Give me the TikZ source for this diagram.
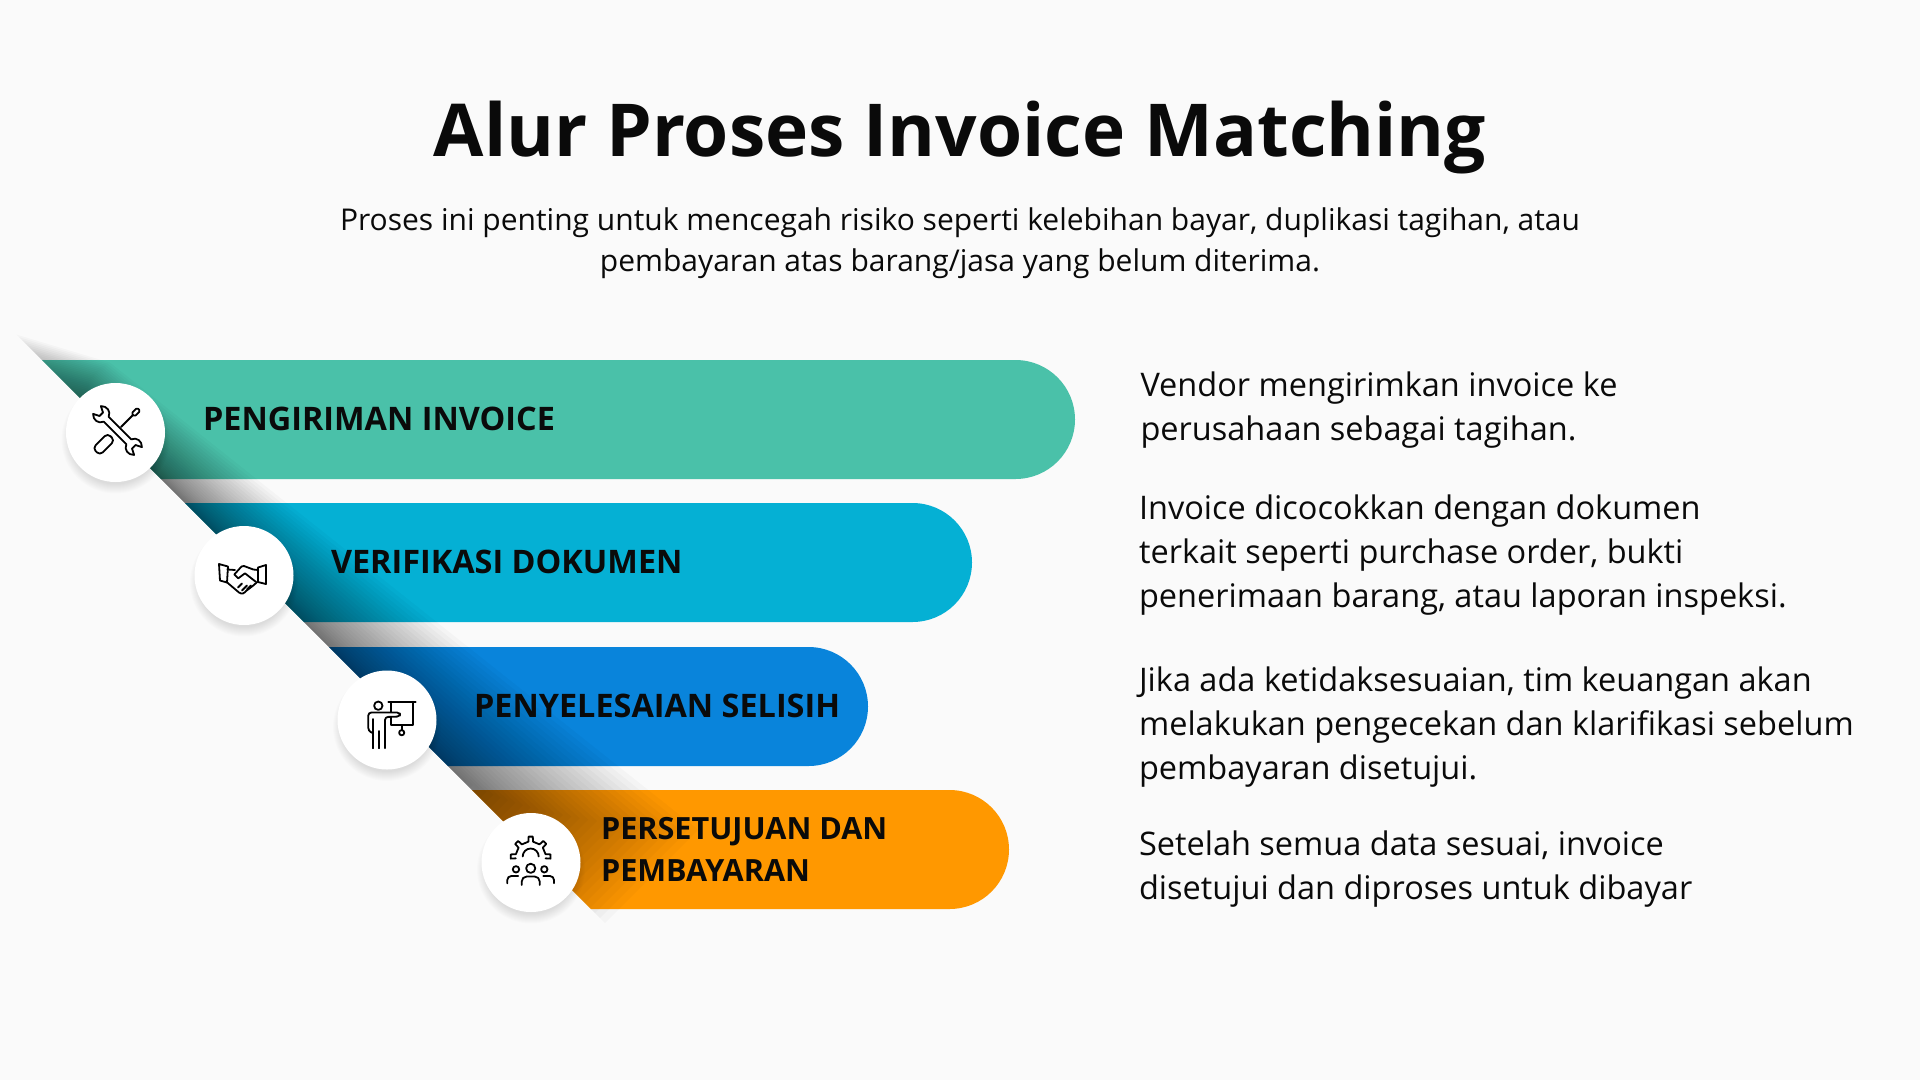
\documentclass[tikz,border=0pt]{standalone}
\usepackage{fontspec}
\setmainfont{Open Sans}
\definecolor{pagebg}{HTML}{FAFAFA}
\definecolor{inktext}{HTML}{0A0A0A}
\definecolor{barteal}{HTML}{4AC1A9}
\definecolor{barcyan}{HTML}{05B0D4}
\definecolor{barblue}{HTML}{0984DB}
\definecolor{barorange}{HTML}{FF9800}
\tikzset{
  titletext/.style={anchor=base, text=inktext, font=\fontsize{73}{80}\selectfont\bfseries},
  subtext/.style={anchor=base, align=center, text=inktext, font=\fontsize{30}{41}\selectfont},
  bartext/.style={anchor=base west, align=left, text=inktext, font=\fontsize{32.4}{42}\selectfont\bfseries},
  bartextsmall/.style={bartext, font=\fontsize{30.6}{42}\selectfont\bfseries},
  desctext/.style={anchor=base west, align=left, text=inktext, font=\fontsize{32.5}{44}\selectfont},
  iconcircle/.style={circle, fill=white, minimum size=99pt, inner sep=0pt},
  iconline/.style={draw=black, line width=1.8pt, line join=round, line cap=round},
  pics/wrenchicon/.style={code={
    \begin{scope}[shift={(2,-2)}, rotate=-45]
      \draw[iconline] (-16,3.5) -- (16,3.5) .. controls (18,9) and (25,10) .. (29,5.5) -- (23,2.5) -- (23,-2.5) -- (29,-5.5)
        .. controls (25,-10) and (18,-9) .. (16,-3.5) -- (-16,-3.5) .. controls (-18,-9) and (-25,-10) .. (-29,-5.5)
        -- (-23,-2.5) -- (-23,2.5) -- (-29,5.5) .. controls (-25,10) and (-18,9) .. (-16,3.5) -- cycle;
    \end{scope}
    \begin{scope}[shift={(2,-2)}, rotate=45]
      \draw[iconline, rounded corners=4pt] (-30,-5) rectangle (-9,5);
      \draw[iconline] (5,0) -- (22,0);
      \draw[iconline, rounded corners=1.5pt] (22,-2.2) rectangle (30,2.2);
    \end{scope}
  }},
  pics/handicon/.style={code={
    \draw[iconline] (-25,-11.5) -- (-16,-9) -- (-17,7) -- (-24,5) -- cycle;
    \draw[iconline] (22,-10.5) -- (14,-8) -- (14,6.5) -- (22,8.5) -- cycle;
    \draw[iconline] (-16.5,-6) -- (-9,-5.5);
    \draw[iconline] (-18,6) -- (-5,17) .. controls (-2,19) and (0,18) .. (2,15.5) -- (9.3,10) -- (14.3,5.5);
    \draw[iconline] (14.3,-5.5) -- (9.3,-6) -- (0,-9.5) -- (-2.5,-9) -- (-9.7,-1) -- (-5.7,2.8) -- (1,-2.2) -- (11.7,6.2);
    \draw[iconline] (-6,12) -- (-2,8);
    \draw[iconline] (-2,15) -- (3,10);
    \draw[iconline] (3,14) -- (7,10);
  }},
  pics/boardicon/.style={code={
    \draw[iconline] (-8.7,-14.3) circle[radius=4.2];
    \draw[iconline] (1.3,-18.3) -- (28.7,-18.3);
    \draw[iconline] (4,-18.3) -- (4,-8);
    \draw[iconline] (26.3,-18.3) -- (26.3,5) -- (4,5) -- (4,-3);
    \draw[iconline] (14.7,5) -- (14.7,10);
    \draw[iconline] (14.7,12.7) circle[radius=2.6];
    \draw[iconline, rounded corners=3pt] (-14.3,13) -- (-18.7,11) -- (-18.7,-7.5) -- (13,-7.5) -- (13,-3.5) -- (-2,-3) -- (-2,28.3);
    \draw[iconline] (-14.3,-1) -- (-14.3,28.3);
    \draw[iconline] (-8,11) -- (-8,28.3);
  }},
  pics/teamicon/.style={code={
    \begin{scope}[shift={(-0.3,-6)}]
      \draw[iconline] (-187:15) -- (-186:20) -- (-174:20) -- (-171:15) -- (-144:15) -- (-141:20) -- (-129:20) -- (-126:15)
        -- (-99:15) -- (-96:20) -- (-84:20) -- (-81:15) -- (-54:15) -- (-51:20) -- (-39:20) -- (-36:15) -- (-9:15) -- (-6:20) -- (6:20) -- (7:15);
      \draw[iconline] (-8,0) arc[start angle=180, end angle=360, radius=8];
    \end{scope}
    \draw[iconline] (-0.3,5.8) circle[radius=4.6];
    \draw[iconline] (-15,6.8) circle[radius=3.2];
    \draw[iconline] (13.3,6.8) circle[radius=3.2];
    \draw[iconline, rounded corners=5pt] (-9.3,22.5) -- (-9.3,14) -- (8.7,14) -- (8.7,22.5);
    \draw[iconline, rounded corners=4pt] (-23.7,20.8) -- (-23.7,13.5) -- (-12.7,13.5);
    \draw[iconline, rounded corners=4pt] (23,20.8) -- (23,13.5) -- (12.3,13.5);
  }}
}

\begin{document}
\begin{tikzpicture}[x=1pt, y=-1pt]
\fill[pagebg] (0,0) rectangle (1920,1080);
% bars
\foreach \ytop/\xright/\barcol in {360/1075/barteal, 503/972/barcyan, 647/868/barblue, 790/1009/barorange} {
  \fill[\barcol] (\ytop-318,\ytop) -- (\xright-59.5,\ytop) arc[start angle=-90, end angle=90, radius=59.5] -- (\ytop+119-318,\ytop+119) -- cycle;
}
% shadow along the slanted edge
\foreach \k in {1,...,30} {
  \pgfmathsetmacro{\ys}{332+2.6*\k}
  \pgfmathsetmacro{\ye}{928-5*\k}
  \pgfmathsetmacro{\wd}{98*(1-\k/31)^1.5}
  \fill[black, opacity=0.022] (\ys-318,\ys) -- (\ye-318,\ye) -- (\ye-318+\wd,\ye-\wd) -- (\ys-318+\wd,\ys+0.3*\wd) -- cycle;
}
% shadows of the circles
\foreach \cx/\cy in {115.5/432.5, 244/575.5, 387/720, 531/862.5} {
  \foreach \k in {1,...,10} {
    \fill[black, opacity=0.012] (\cx,\cy+7) circle[radius=55-\k];
  }
}
\node[iconcircle] (toolcircle) at (115.5,432.5) {};
\node[iconcircle] (handcircle) at (244,575.5) {};
\node[iconcircle] (boardcircle) at (387,720) {};
\node[iconcircle] (teamcircle) at (531,862.5) {};
\pic at (toolcircle.center) {wrenchicon};
\pic at (handcircle.center) {handicon};
\pic at (boardcircle.center) {boardicon};
\pic at (teamcircle.center) {teamicon};
% title
\node[titletext] (title) at (960,156) {Alur Proses Invoice Matching};
\node[subtext] (subline) at (960,271) {Proses ini penting untuk mencegah risiko seperti kelebihan bayar, duplikasi tagihan, atau\\pembayaran atas barang/jasa yang belum diterima.};
% bar labels
\node[bartext] (kirim) at (199.5,430) {PENGIRIMAN INVOICE};
\node[bartext] (verif) at (327.5,573) {VERIFIKASI DOKUMEN};
\node[bartext] (selisih) at (470.5,717) {PENYELESAIAN SELISIH};
\node[bartextsmall] (setuju) at (597.5,881) {PERSETUJUAN DAN\\PEMBAYARAN};
% right column
\node[desctext] (desca) at (1137,440) {Vendor mengirimkan invoice ke\\perusahaan sebagai tagihan.};
\node[desctext] (descb) at (1135.5,607) {Invoice dicocokkan dengan dokumen\\terkait seperti purchase order, bukti\\penerimaan barang, atau laporan inspeksi.};
\node[desctext] (descc) at (1135.5,779) {Jika ada ketidaksesuaian, tim keuangan akan\\melakukan pengecekan dan klarifikasi sebelum\\pembayaran disetujui.};
\node[desctext] (descd) at (1135.5,899) {Setelah semua data sesuai, invoice\\disetujui dan diproses untuk dibayar};
\end{tikzpicture}
\end{document}
